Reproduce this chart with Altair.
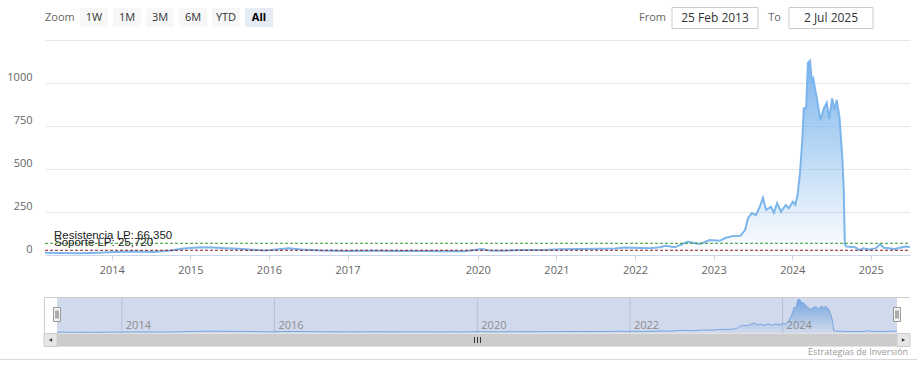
import altair as alt
import pandas as pd

# ---------------- data ----------------
dates = [
    "2013-02-25", "2013-05-01", "2013-08-01", "2013-11-01", "2014-01-15", "2014-04-15",
    "2014-07-15", "2014-10-01", "2014-12-01", "2015-02-15", "2015-04-15", "2015-06-15",
    "2015-08-15", "2015-10-15", "2015-12-15", "2016-02-15", "2016-04-01", "2016-06-01",
    "2016-09-01", "2017-01-01", "2017-05-01", "2017-09-01", "2018-01-01", "2018-03-25",
    "2019-08-05", "2019-11-01", "2020-01-20", "2020-02-25", "2020-04-15", "2020-07-15",
    "2020-11-01", "2021-01-20", "2021-04-20", "2021-07-20", "2021-10-01", "2021-11-15",
    "2021-12-20", "2022-03-10", "2022-04-27", "2022-05-23", "2022-07-05", "2022-09-02",
    "2022-10-30", "2022-12-14", "2023-01-30", "2023-02-24", "2023-03-28", "2023-05-05",
    "2023-05-27", "2023-06-10", "2023-06-28", "2023-07-16", "2023-08-03", "2023-08-18",
    "2023-09-02", "2023-09-24", "2023-10-08", "2023-10-23", "2023-11-10", "2023-12-02",
    "2023-12-16", "2024-01-04", "2024-01-15", "2024-01-26", "2024-02-06", "2024-02-17",
    "2024-02-24", "2024-03-06", "2024-03-14", "2024-03-24", "2024-04-01", "2024-04-08",
    "2024-04-16", "2024-04-26", "2024-05-11", "2024-05-27", "2024-06-10", "2024-06-21",
    "2024-07-05", "2024-07-16", "2024-07-26", "2024-08-08", "2024-08-21", "2024-08-28",
    "2024-09-02", "2024-09-09", "2024-10-20", "2024-11-11", "2024-11-25", "2024-12-27",
    "2025-01-25", "2025-02-13", "2025-03-03", "2025-04-23", "2025-06-09", "2025-07-02",
]
values = [
    12, 10, 9, 12, 16, 18,
    16, 24, 36, 44, 42, 38,
    35, 29, 24, 31, 37, 30,
    24, 22, 23, 22, 21, 20,
    22, 20, 33, 24, 23, 27,
    28, 31, 33, 34, 36, 42,
    40, 37, 43, 52, 43, 75,
    62, 85, 81, 97, 108, 110,
    143, 213, 242, 230, 277, 330,
    260, 279, 244, 299, 250, 289,
    270, 308, 289, 347, 473, 667,
    851, 855, 1115, 1128, 1010, 1025,
    967, 900, 782, 850, 884, 790,
    909, 841, 900, 800, 570, 370,
    60, 47, 43, 27, 37, 31,
    38, 60, 40, 33, 47, 45,
]

# period without quotes (compressed on the ordinal axis)
gap_start = "2018-04-01"
gap_end = "2019-08-04"

resistance = 66.35
support = 25.72
resistance_label = "Resistencia LP: 66,350"
support_label = "Soporte LP: 25,720"

axis_years = [2014, 2015, 2016, 2017, 2020, 2021, 2022, 2023, 2024, 2025]
nav_years = [2014, 2016, 2020, 2022, 2024]
y_ticks = [0, 250, 500, 750, 1000, 1250]

buttons = ["1W", "1M", "3M", "6M", "YTD", "All"]
selected_button = "All"
zoom_label = "Zoom"
from_label = "From"
to_label = "To"
from_date = "25 Feb 2013"
to_date = "2 Jul 2025"
credits = "Estrategias de Inversión"


# ---------------- ordinal (gap-compressed) position ----------------
def dec_year(d):
    t = pd.Timestamp(d)
    s = pd.Timestamp(year=t.year, month=1, day=1)
    e = pd.Timestamp(year=t.year + 1, month=1, day=1)
    return t.year + (t - s) / (e - s)


GAP = dec_year(gap_end) - dec_year(gap_start)
SPLIT = dec_year(gap_start)


def opos(d):
    p = dec_year(d)
    return p - GAP if pd.Timestamp(d) >= pd.Timestamp(gap_end) else p


df = pd.DataFrame({"date": dates, "value": values})
df["pos"] = [opos(d) for d in dates]

ticks_main = [opos(f"{y}-01-01") for y in axis_years]
nav_df = pd.DataFrame({"year": [str(y) for y in nav_years]})
nav_df["pos"] = [opos(f"{y}-01-01") for y in nav_years]

W, H = 865, 255
x_dom = [float(df["pos"].min()), float(df["pos"].max())]

FONT = "Open Sans"
BLUE = "#7cb5ec"

main_x = alt.Scale(domain=x_dom, range=[0, W], nice=False, zero=False)
main_y = alt.Scale(domain=[0, 1250], range=[254.7, 39.7], nice=False, zero=False)
nav_x = alt.Scale(domain=x_dom, range=[12, 852], nice=False, zero=False)
nav_y = alt.Scale(domain=[0, float(max(values))], range=[332.5, 299.5], nice=False, zero=False)

x_axis = alt.Axis(
    values=ticks_main,
    labelExpr=f"'' + round(datum.value + (datum.value > {SPLIT} ? {GAP} : 0))",
    grid=False, domainColor="#ccd6eb", tickColor="#ccd6eb", tickSize=5,
    labelPadding=4, labelColor="#666666", labelFont=FONT, labelFontSize=11,
    title=None, labelFlush=False, labelOverlap=False,
)
y_axis = alt.Axis(
    values=y_ticks,
    labelExpr="datum.value == 1250 ? '' : '' + datum.value",
    grid=True, gridColor="#e6e6e6", domain=False, ticks=False, tickSize=0,
    labelPadding=13, labelColor="#666666", labelFont=FONT, labelFontSize=11,
    labelBaseline="alphabetic", labelOffset=-2, title=None,
)

grad = alt.Gradient(
    gradient="linear",
    stops=[alt.GradientStop(color=BLUE, offset=0),
           alt.GradientStop(color="rgba(124,181,236,0)", offset=1)],
    x1=1, x2=1, y1=0, y2=1,
)

one = pd.DataFrame({"k": [0]})


def rect(x0, x1, y0, y1, fill, stroke=None, fill_opacity=1.0):
    kw = dict(fill=fill, fillOpacity=fill_opacity)
    if stroke:
        kw.update(stroke=stroke, strokeWidth=1)
    else:
        kw.update(strokeWidth=0)
    return alt.Chart(one).mark_rect(**kw).encode(
        x=alt.value(x0), x2=alt.value(x1), y=alt.value(y0), y2=alt.value(y1))


def seg(x0, x1, y0, y1, color, width=1):
    return alt.Chart(one).mark_rule(color=color, strokeWidth=width).encode(
        x=alt.value(x0), x2=alt.value(x1), y=alt.value(y0), y2=alt.value(y1))


def txt(s, x, y, align="left", size=11, color="#666666", weight="normal", font=FONT):
    return alt.Chart(pd.DataFrame({"t": [s]})).mark_text(
        align=align, baseline="middle", fontSize=size, color=color,
        fontWeight=weight, font=font).encode(
        x=alt.value(x), y=alt.value(y), text="t:N")


layers = []

# ---------------- main series ----------------
layers.append(alt.Chart(df).mark_area(color=grad).encode(
    x=alt.X("pos:Q", scale=main_x, axis=x_axis),
    y=alt.Y("value:Q", scale=main_y, axis=y_axis)))
layers.append(alt.Chart(df).mark_line(color=BLUE, strokeWidth=2).encode(
    x=alt.X("pos:Q", scale=main_x, axis=None),
    y=alt.Y("value:Q", scale=main_y, axis=None)))

for val, lab, col in [(resistance, resistance_label, "#2f9a2f"),
                      (support, support_label, "#8b1c1c")]:
    d = pd.DataFrame({"value": [val], "label": [lab]})
    layers.append(alt.Chart(d).mark_rule(color=col, strokeDash=[3, 2], strokeWidth=1).encode(
        x=alt.value(0), x2=alt.value(W),
        y=alt.Y("value:Q", scale=main_y, axis=None)))
    layers.append(alt.Chart(d).mark_text(
        align="left", baseline="alphabetic", dy=-4, fontSize=11.5,
        font="Liberation Sans", color="#1a1a1a").encode(
        x=alt.value(9), y=alt.Y("value:Q", scale=main_y, axis=None), text="label:N"))

# ---------------- toolbar ----------------
layers.append(txt(zoom_label, 0, 17.5))
bdf = pd.DataFrame({"label": buttons, "i": list(range(len(buttons)))})
bbase = alt.Chart(bdf).transform_calculate(
    x0="35 + 33 * datum.i", x1="63 + 33 * datum.i", xc="49 + 33 * datum.i")
layers.append(bbase.mark_rect(strokeWidth=0).encode(
    x=alt.X("x0:Q", scale=None), x2="x1:Q", y=alt.value(8), y2=alt.value(27),
    color=alt.condition(alt.datum.label == selected_button,
                        alt.value("#e6ebf5"), alt.value("#f7f7f7"))))
layers.append(bbase.transform_filter(alt.datum.label != selected_button).mark_text(
    fontSize=11, font=FONT, color="#333333", baseline="middle").encode(
    x=alt.X("xc:Q", scale=None), y=alt.value(17.5), text="label:N"))
layers.append(bbase.transform_filter(alt.datum.label == selected_button).mark_text(
    fontSize=11, font=FONT, color="#000000", fontWeight="bold", baseline="middle").encode(
    x=alt.X("xc:Q", scale=None), y=alt.value(17.5), text="label:N"))

layers.append(txt(from_label, 621, 17.5, align="right"))
layers.append(rect(627, 713, 7.5, 28.5, "#ffffff", stroke="#cccccc"))
layers.append(txt(from_date, 670, 18, align="center", size=12, color="#333333"))
layers.append(txt(to_label, 736, 17.5, align="right"))
layers.append(rect(744, 828, 7.5, 28.5, "#ffffff", stroke="#cccccc"))
layers.append(txt(to_date, 786, 18, align="center", size=12, color="#333333"))

# ---------------- navigator ----------------
layers.append(alt.Chart(nav_df).mark_rule(color="#dcdcdc", strokeWidth=1).encode(
    x=alt.X("pos:Q", scale=nav_x, axis=None), y=alt.value(297), y2=alt.value(333)))
layers.append(alt.Chart(df).mark_area(color=grad).encode(
    x=alt.X("pos:Q", scale=nav_x, axis=None),
    y=alt.Y("value:Q", scale=nav_y, axis=None)))
layers.append(alt.Chart(df).mark_line(color=BLUE, strokeWidth=1).encode(
    x=alt.X("pos:Q", scale=nav_x, axis=None),
    y=alt.Y("value:Q", scale=nav_y, axis=None)))
layers.append(rect(12, 852, 297, 333, "#6685c2", fill_opacity=0.3))
layers.append(alt.Chart(nav_df).mark_text(
    align="left", baseline="alphabetic", dx=4, fontSize=11, font=FONT, color="#8c8c8c").encode(
    x=alt.X("pos:Q", scale=nav_x, axis=None), y=alt.value(328.5), text="year:N"))
layers.append(seg(-1, 865, 297.5, 297.5, "#cccccc"))
layers.append(seg(-0.5, -0.5, 297, 333, "#cccccc"))

# handles
for hx in (8.5, 848.5):
    layers.append(rect(hx, hx + 7, 307.5, 321.5, "#f2f2f2", stroke="#999999"))
    layers.append(seg(hx + 2.5, hx + 2.5, 310.5, 318.5, "#666666"))
    layers.append(seg(hx + 4.5, hx + 4.5, 310.5, 318.5, "#666666"))

# scrollbar
layers.append(rect(-1, 865, 333.5, 346.5, "#f2f2f2"))
layers.append(rect(12, 852, 333.5, 346.5, "#cccccc"))
layers.append(rect(-1, 12, 333.5, 346.5, "#e6e6e6", stroke="#cccccc"))
layers.append(rect(852, 865, 333.5, 346.5, "#e6e6e6", stroke="#cccccc"))
for rx in (429, 432, 435):
    layers.append(seg(rx + 0.5, rx + 0.5, 337, 343, "#333333"))
layers.append(alt.Chart(one).mark_point(shape="triangle-left", filled=True, size=14,
                                        color="#333333", opacity=1).encode(
    x=alt.value(5.5), y=alt.value(340)))
layers.append(alt.Chart(one).mark_point(shape="triangle-right", filled=True, size=14,
                                        color="#333333", opacity=1).encode(
    x=alt.value(858.5), y=alt.value(340)))

# credits + bottom border
layers.append(txt(credits, 863, 351.5, align="right", size=9, color="#999999"))
layers.append(seg(-45, 872, 359.5, 359.5, "#d8d8e0"))

chart = alt.layer(*layers).resolve_scale(
    x="independent", y="independent"
).properties(
    width=W, height=H,
    padding={"left": 45, "right": 7, "top": 0, "bottom": 125},
    autosize=alt.AutoSizeParams(type="none"),
    background="white",
).configure_view(stroke=None)

chart.save("out.html", embed_options={"renderer": "svg", "actions": False})
